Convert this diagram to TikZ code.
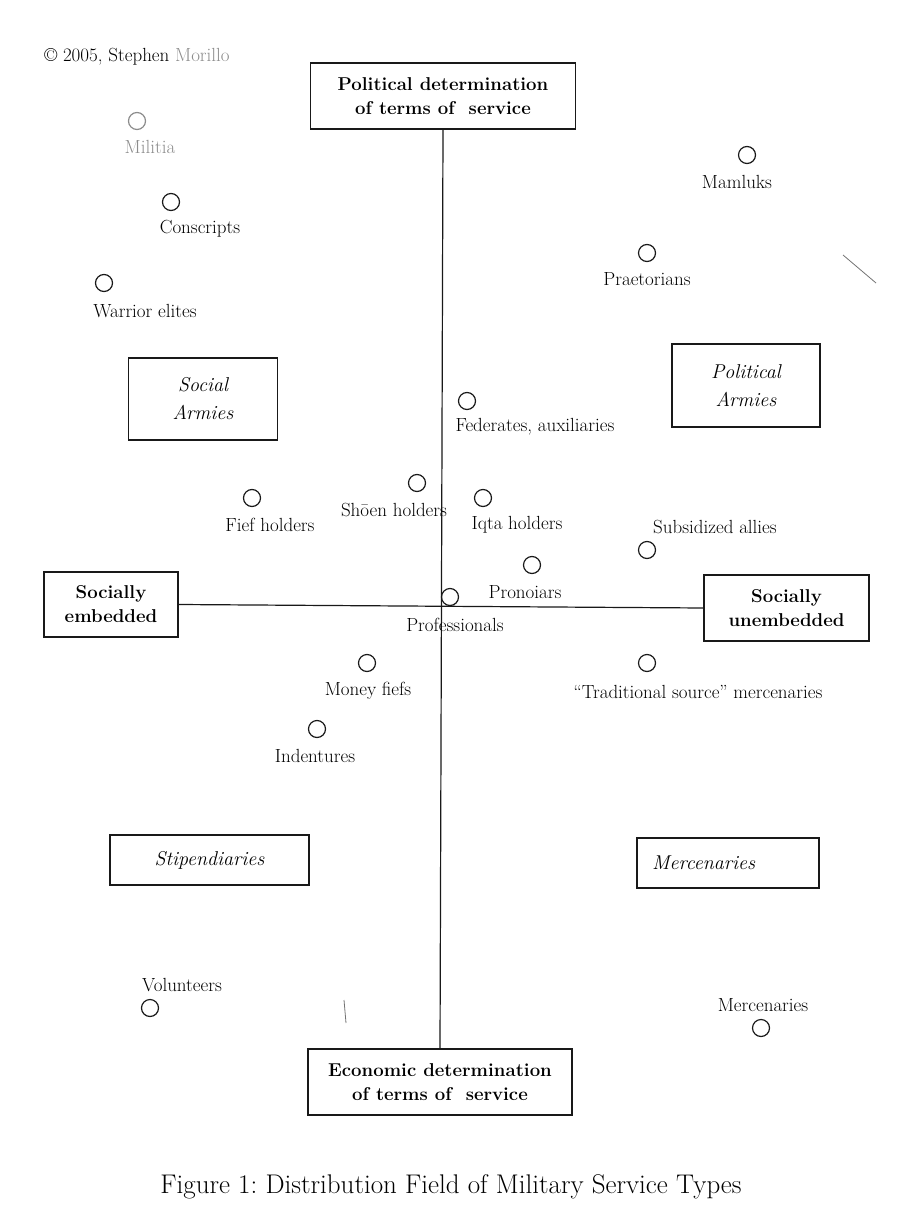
\documentclass[tikz,border=0pt]{standalone}
\usepackage{fontspec}
\usepackage{tikz}
\usetikzlibrary{positioning}

\tikzset{
  dot/.style={circle, draw=black!90, line width=1.2pt, minimum size=17pt, inner sep=0pt},
  lbl/.style={text=black, font=\fontsize{19}{22}\selectfont, inner sep=0pt},
  axisbox/.style={draw=black!90, line width=1.3pt, align=center, inner sep=0pt,
    font=\bfseries\fontsize{18.6}{24}\selectfont},
  kindbox/.style={draw=black!90, line width=1.2pt, align=center, inner sep=0pt,
    font=\itshape\fontsize{20}{28}\selectfont},
  axis/.style={draw=black!90, line width=1.2pt},
}

\begin{document}
\begin{tikzpicture}[x=1pt, y=-1pt]
	\useasboundingbox (0,0) rectangle (906,1222);
	% the four poles
	\node[axisbox, minimum width=265pt, minimum height=66pt] (political) at (443,96)
		{Political determination\\of terms of\ \ service};
	\node[axisbox, minimum width=264pt, minimum height=66pt] (economic) at (440,1082)
		{Economic determination\\of terms of\ \ service};
	\node[axisbox, minimum width=134pt, minimum height=65pt] (embedded) at (111,604.5)
		{Socially\\embedded};
	\node[axisbox, minimum width=165pt, minimum height=66pt] (unembedded) at (786.5,608)
		{Socially\\unembedded};
	\draw[axis] (political.south) -- (economic.north);
	\draw[axis] (embedded.east) -- (unembedded.west);
	% the four kinds of army
	\node[kindbox, minimum width=149pt, minimum height=82pt] (social) at (203,399)
		{Social\\Armies};
	\node[kindbox, minimum width=148pt, minimum height=83pt] (politarmies) at (746,385.5)
		{Political\\Armies};
	\node[kindbox, minimum width=199pt, minimum height=50pt] (stipend) at (209.5,860)
		{Stipendiaries};
	\node[kindbox, minimum width=182pt, minimum height=50pt, text width=152pt,
		inner xsep=15pt, align=left] (mercbox) at (728,863) {Mercenaries};
	% service types
	\foreach \n/\x/\y in {conscripts/171/202, warrior/104/283, mamluks/747/155,
		praetorians/647/253, federates/467/401, shoen/417/483, fief/252/498,
		iqta/483/498, subsidized/647/550, pronoiars/532/565, professionals/450/597,
		money/367/663, traditional/647/663, indentures/317/729,
		volunteers/150/1008, mercenaries/761/1028} {
		\node[dot] (\n) at (\x,\y) {};
	}
	\node[dot, draw=black!45] (militia) at (137,121) {};
	\node[lbl, text=black!45] (militia-l) at (150,147) {Militia};
	\node[lbl] (conscripts-l) at (200,229) {Conscripts};
	\node[lbl] (warrior-l) at (145,311) {Warrior elites};
	\node[lbl] (mamluks-l) at (737,182) {Mamluks};
	\node[lbl] (praetorians-l) at (647,279) {Praetorians};
	\node[lbl] (federates-l) at (535,427) {Federates, auxiliaries};
	\node[lbl] (shoen-l) at (394,510) {Sh\={o}en holders};
	\node[lbl] (fief-l) at (270,525) {Fief holders};
	\node[lbl] (iqta-l) at (517,525) {Iqta holders};
	\node[lbl] (subsidized-l) at (715,527) {Subsidized allies};
	\node[lbl] (pronoiars-l) at (525,592) {Pronoiars};
	\node[lbl] (professionals-l) at (455,625) {Professionals};
	\node[lbl] (money-l) at (368,691) {Money fiefs};
	\node[lbl] (traditional-l) at (698,692) {``Traditional source'' mercenaries};
	\node[lbl] (indentures-l) at (315,756) {Indentures};
	\node[lbl] (volunteers-l) at (182,985) {Volunteers};
	\node[lbl] (mercenaries-l) at (763,1005) {Mercenaries};
	% stray marks of the scan
	\draw[black!55, line width=.8pt] (843,255) -- (876,283);
	\draw[black!55, line width=.8pt] (344,1000) -- (346,1023);
	% copyright and caption
	\node[lbl] (copyright) at (137,57) {\textcopyright\ 2005, Stephen {\color{black!45}Morillo}};
	\node[lbl, font=\fontsize{27}{32}\selectfont] (caption) at (451,1187)
		{Figure 1:\ Distribution Field of Military Service Types};
\end{tikzpicture}
\end{document}
